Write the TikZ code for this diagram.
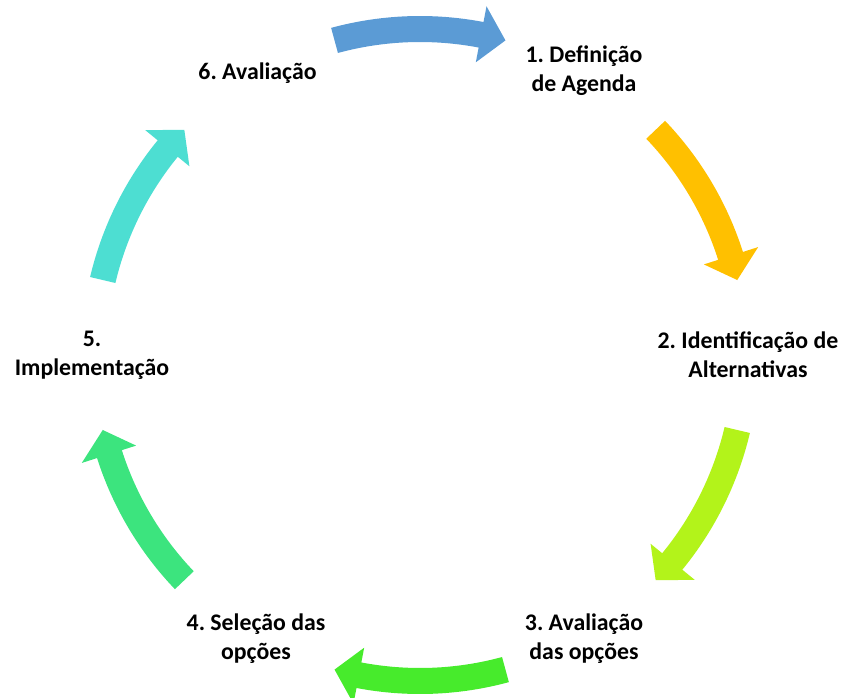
\documentclass[tikz,border=0pt]{standalone}
\usepackage{fontspec}
\setmainfont{Carlito}
\frenchspacing

\definecolor{stepblue}{HTML}{5B9BD5}
\definecolor{stepgold}{HTML}{FFC000}
\definecolor{steplime}{HTML}{B3F31A}
\definecolor{stepgreen}{HTML}{47EB2C}
\definecolor{stepmint}{HTML}{3CE47E}
\definecolor{stepcyan}{HTML}{4DDED2}

\tikzset{
  phase/.style={align=center,font=\fontsize{23.8}{29}\selectfont\bfseries,inner sep=0pt}
}

\begin{document}
\begin{tikzpicture}
        \useasboundingbox (-420pt,-342pt) rectangle (421pt,355pt);
        % Draw the curved arrows
        \fill[stepblue] (105.2:339pt) arc[start angle=105.2,end angle=79.2,radius=339pt] -- (79.2:355pt) -- (74.8:326pt) -- (79.2:298pt) -- (79.2:313pt) arc[start angle=79.2,end angle=105.2,radius=313pt] -- cycle;
        \fill[stepgold] (43.7:339pt) arc[start angle=43.7,end angle=17.7,radius=339pt] -- (17.7:355pt) -- (13.3:326pt) -- (17.7:298pt) -- (17.7:313pt) arc[start angle=17.7,end angle=43.7,radius=313pt] -- cycle;
        \fill[steplime] (-13.3:339pt) arc[start angle=-13.3,end angle=-39.3,radius=339pt] -- (-39.3:355pt) -- (-43.7:326pt) -- (-39.3:298pt) -- (-39.3:313pt) arc[start angle=-39.3,end angle=-13.3,radius=313pt] -- cycle;
        \fill[stepgreen] (-74.8:339pt) arc[start angle=-74.8,end angle=-100.8,radius=339pt] -- (-100.8:355pt) -- (-105.2:326pt) -- (-100.8:298pt) -- (-100.8:313pt) arc[start angle=-100.8,end angle=-74.8,radius=313pt] -- cycle;
        \fill[stepmint] (-136.3:339pt) arc[start angle=-136.3,end angle=-162.3,radius=339pt] -- (-162.3:355pt) -- (-166.7:326pt) -- (-162.3:298pt) -- (-162.3:313pt) arc[start angle=-162.3,end angle=-136.3,radius=313pt] -- cycle;
        \fill[stepcyan] (166.7:339pt) arc[start angle=166.7,end angle=140.7,radius=339pt] -- (140.7:355pt) -- (136.3:326pt) -- (140.7:298pt) -- (140.7:313pt) arc[start angle=140.7,end angle=166.7,radius=313pt] -- cycle;
        % Phase labels around the cycle
        \node[phase] (agenda) at (60:328pt) {1. Definição\\de Agenda};
        \node[phase] (alternativas) at (0:328pt) {2. Identificação de\\Alternativas};
        \node[phase] (avaliacaoopcoes) at (-60:328pt) {3. Avaliação\\das opções};
        \node[phase] (selecao) at (-120:328pt) {4. Seleção das\\opções};
        \node[phase] (implementacao) at (180:328pt) {5.\\Implementação};
        \node[phase] (avaliacao) at (120:325pt) {6. Avaliação};
    \end{tikzpicture}
\end{document}
